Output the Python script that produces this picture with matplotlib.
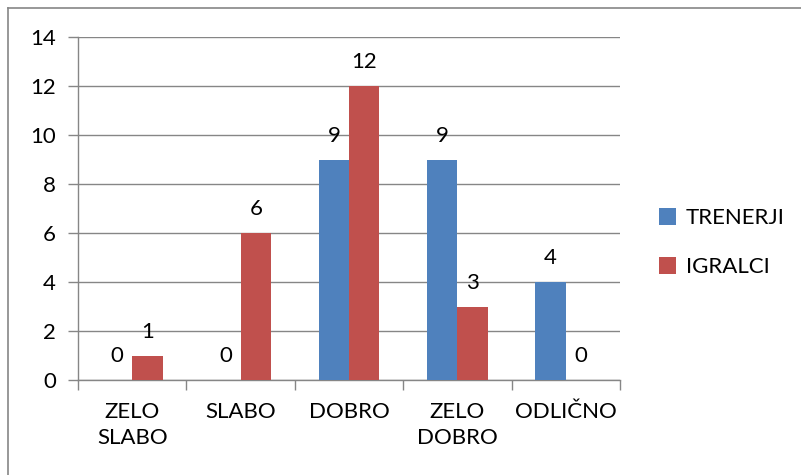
import matplotlib.pyplot as plt
import numpy as np
from matplotlib.lines import Line2D

plt.rcParams['font.family'] = ['Lato', 'DejaVu Sans']

# ocjene i broj odgovora po skupini
kategorije = ['ZELO\nSLABO', 'SLABO', 'DOBRO', 'ZELO\nDOBRO', 'ODLIČNO']
treneri = [0, 0, 9, 9, 4]
igralci = [1, 6, 12, 3, 0]
y_ticks = [0, 2, 4, 6, 8, 10, 12, 14]

plava = '#4F81BD'
crvena = '#C0504D'
siva = '#868686'
fs = 16

fig = plt.figure(figsize=(8.01, 4.75), dpi=100)
ax = fig.add_axes([0.0974, 0.2, 0.6766, 0.722])

x = np.arange(len(kategorije))
w = 0.28
b1 = ax.bar(x - w / 2, treneri, w, color=plava, label='TRENERJI', zorder=3)
b2 = ax.bar(x + w / 2, igralci, w, color=crvena, label='IGRALCI', zorder=3)

# vrijednosti iznad stupaca
for bars, vals in ((b1, treneri), (b2, igralci)):
    for r, v in zip(bars, vals):
        ax.annotate(str(v), (r.get_x() + r.get_width() / 2, v),
                    xytext=(0, 10), textcoords='offset points',
                    ha='center', va='bottom', fontsize=fs)

ax.set_xlim(-0.5, len(kategorije) - 0.5)
ax.set_ylim(0, 14)
ax.set_yticks(y_ticks)
ax.tick_params(axis='y', labelsize=fs, length=7, color=siva, width=1, pad=9)
ax.yaxis.grid(True, color=siva, linewidth=1, zorder=0)

# oznake kategorija ispod, crtice na granicama
ax.set_xticks(x)
ax.set_xticklabels(kategorije, fontsize=fs, linespacing=1.35)
ax.tick_params(axis='x', length=0, pad=16)
ax.set_xticks(np.arange(len(kategorije) + 1) - 0.5, minor=True)
ax.tick_params(axis='x', which='minor', length=7, color=siva, width=1)

for s in ('top', 'right'):
    ax.spines[s].set_visible(False)
for s in ('left', 'bottom'):
    ax.spines[s].set_color(siva)
    ax.spines[s].set_linewidth(1)

ax.legend(loc='center left', bbox_to_anchor=(1.035, 0.40), frameon=False,
          fontsize=fs, handlelength=0.75, handleheight=0.75,
          handletextpad=0.45, labelspacing=1.3)

# okvir oko grafikona
fig.add_artist(Line2D([0.01, 1.0], [0.983, 0.983], color=siva, lw=1.2))
fig.add_artist(Line2D([0.01, 0.01], [0.0, 0.983], color=siva, lw=1.2))

fig.savefig('out.png', dpi=100)
